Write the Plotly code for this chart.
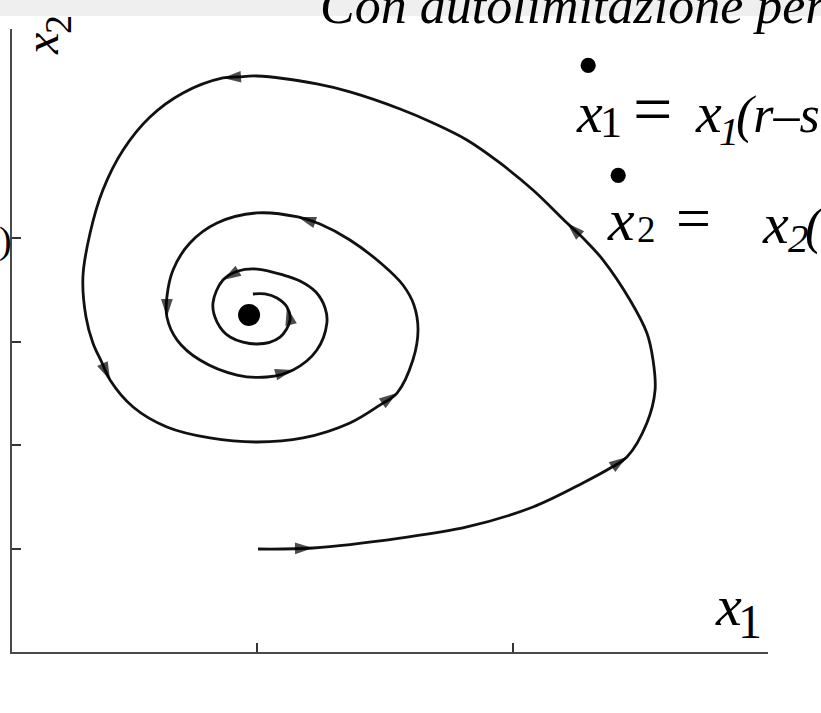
import plotly.graph_objects as go

# Trajectory of the self-limited system in the (x1, x2) phase plane, in order of time
x1 = [1.004, 1.219, 1.559, 1.820, 2.078, 2.273, 2.387, 2.445, 2.523, 2.555,
      2.547, 2.523, 2.457, 2.352, 2.281, 2.211, 2.078, 1.949, 1.820, 1.688,
      1.559, 1.363, 1.234, 1.000, 0.926, 0.867, 0.711, 0.582, 0.477, 0.398,
      0.348, 0.320, 0.332, 0.359, 0.395, 0.426, 0.516, 0.648, 0.816, 1.000,
      1.180, 1.363, 1.480, 1.547, 1.609, 1.629, 1.613, 1.570, 1.492, 1.363,
      1.246, 1.160, 1.000, 0.844, 0.738, 0.672, 0.648, 0.648, 0.688, 0.777,
      0.922, 1.039, 1.141, 1.234, 1.273, 1.266, 1.230, 1.168, 1.102, 1.000,
      0.926, 0.867, 0.828, 0.844, 0.895, 1.000, 1.090, 1.129, 1.117, 1.078,
      1.031, 0.984]
x2 = [0.995, 1.005, 1.101, 1.208, 1.401, 1.633, 1.787, 1.884, 2.213, 2.531,
      2.821, 3.082, 3.401, 3.787, 3.981, 4.145, 4.464, 4.725, 4.947, 5.111,
      5.246, 5.411, 5.488, 5.565, 5.556, 5.546, 5.401, 5.169, 4.850, 4.464,
      4.048, 3.623, 3.237, 2.986, 2.792, 2.628, 2.367, 2.174, 2.068, 2.029,
      2.068, 2.213, 2.386, 2.502, 2.821, 3.111, 3.353, 3.546, 3.739, 3.981,
      4.135, 4.203, 4.242, 4.145, 3.952, 3.691, 3.430, 3.237, 3.014, 2.821,
      2.676, 2.657, 2.725, 2.918, 3.179, 3.324, 3.478, 3.585, 3.643, 3.700,
      3.681, 3.594, 3.372, 3.188, 3.043, 2.976, 3.043, 3.208, 3.333, 3.420,
      3.459, 3.459]

# Samples of the trajectory that carry a direction arrow
arrow_at = [1, 7, 15, 25, 35, 43, 51, 57, 62, 71, 78]

# Stable equilibrium point
eq_x1 = [0.969]
eq_x2 = [3.256]

# Axis ticks (no labels)
x1_ticks = [1, 2]
x2_ticks = [1, 2, 3, 4]

W, H = 821, 713
L, T, R, B = 12, 29, 768, 652      # plot box in page pixels
SERIF = "Liberation Serif"


def paper(px, py):
    return (px - L) / (R - L), (B - py) / (B - T)


fig = go.Figure()

fig.add_trace(go.Scatter(
    x=x1, y=x2, mode="lines",
    line=dict(color="#111111", width=2.8, shape="spline", smoothing=1.0),
    hoverinfo="skip", showlegend=False))

fig.add_trace(go.Scatter(
    x=x1, y=x2, mode="markers",
    marker=dict(symbol="arrow", angleref="previous", color="#000000",
                size=[19 if i in arrow_at else 0 for i in range(len(x1))],
                line=dict(width=0)),
    hoverinfo="skip", showlegend=False))

fig.add_trace(go.Scatter(
    x=eq_x1, y=eq_x2, mode="markers",
    marker=dict(symbol="circle", size=22, color="black"),
    hoverinfo="skip", showlegend=False))

# light header band across the top of the page
x0, y0 = paper(0, 16)
xe, ye = paper(W, 0)
fig.add_shape(type="rect", xref="paper", yref="paper", x0=x0, x1=xe, y0=y0, y1=ye,
              fillcolor="#efefef", line=dict(width=0), layer="below")


def put(text, px, py, size, anchor="center", angle=0):
    ax, ay = paper(px, py)
    fig.add_annotation(text=text, x=ax, y=ay, xref="paper", yref="paper",
                       xanchor=anchor, yanchor="middle", showarrow=False,
                       textangle=angle,
                       font=dict(family=SERIF, size=size, color="black"))


# title
put("<i>Con autolimitazione per</i>", 318, 6, 52, anchor="left")

# first equation: dx1/dt
put("•", 588, 65, 64)
put("<i>x</i>", 589, 112, 58)
put("1", 611, 122, 44)
put("=", 652, 109, 70)
put("<i>x</i>", 708, 112, 58)
put("<i>1</i>", 729, 131, 40)
put("<i>(r–s</i>", 734, 115, 52, anchor="left")

# second equation: dx2/dt
put("•", 618, 175, 64)
put("<i>x</i>", 621, 220, 60)
put("2", 646, 229, 37)
put("=", 693, 218, 62)
put("<i>x</i>", 775, 223, 58)
put("<i>2</i>", 798, 238, 41)
put("<i>(</i>", 803, 226, 52, anchor="left")

# axis names
put("<i>x</i>", 41, 44, 48, angle=-90)
put("2", 58, 25, 38, angle=-90)
put("<i>x</i>", 728, 605, 58)
put("1", 750, 621, 48)

# tail of a value label left of the top tick
put(")", 14, 240, 38, anchor="right")

axis_common = dict(showgrid=False, zeroline=False, showline=True,
                   linecolor="#4a4a4a", linewidth=2, ticks="inside",
                   ticklen=9, tickwidth=2, tickcolor="#333333",
                   showticklabels=False, fixedrange=True)

fig.update_layout(
    width=W, height=H,
    margin=dict(l=L, r=W - R, t=T, b=H - B, pad=0),
    paper_bgcolor="white", plot_bgcolor="white",
    xaxis=dict(range=[(L - 1) / 256, (R - 1) / 256], tickvals=x1_ticks, **axis_common),
    yaxis=dict(range=[0, (B - T) / 103.5], tickvals=x2_ticks, **axis_common),
    showlegend=False,
)

fig.write_html("out.html")
